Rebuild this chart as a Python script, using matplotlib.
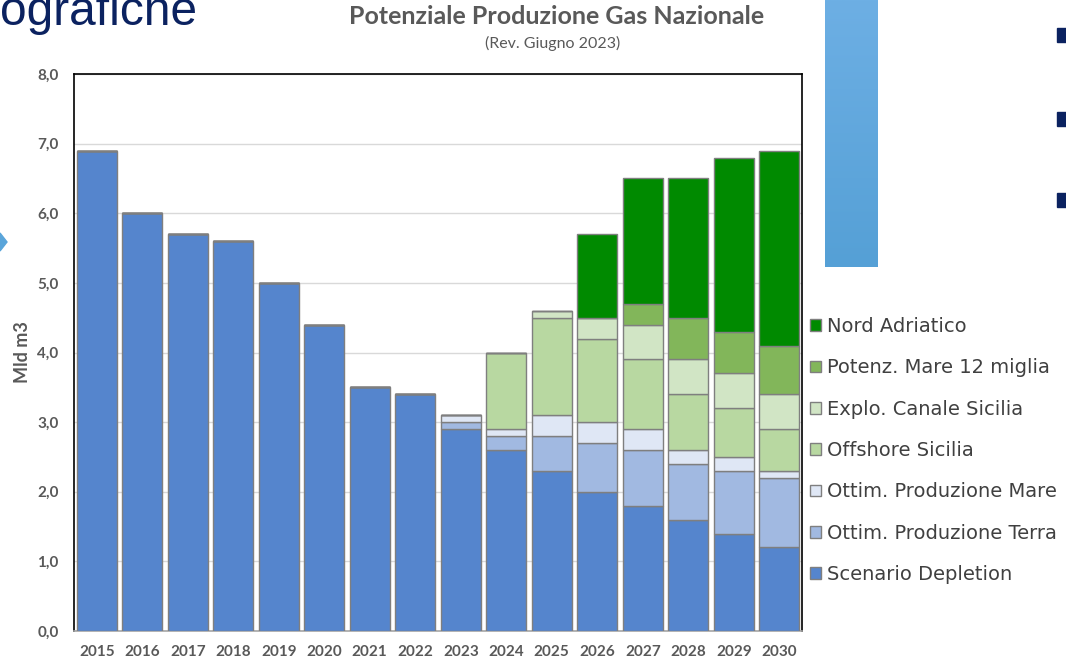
import numpy as np
import matplotlib
matplotlib.use('Agg')
from matplotlib import pyplot as plt
from matplotlib.patches import Rectangle, Polygon

years = ['2015', '2016', '2017', '2018', '2019', '2020', '2021', '2022',
         '2023', '2024', '2025', '2026', '2027', '2028', '2029', '2030']

# Mld m3 (stack order bottom -> top)
depletion = [6.9, 6.0, 5.7, 5.6, 5.0, 4.4, 3.5, 3.4, 2.9, 2.6, 2.3, 2.0, 1.8, 1.6, 1.4, 1.2]
ottim_terra = [0, 0, 0, 0, 0, 0, 0, 0, 0.1, 0.2, 0.5, 0.7, 0.8, 0.8, 0.9, 1.0]
ottim_mare = [0, 0, 0, 0, 0, 0, 0, 0, 0.1, 0.1, 0.3, 0.3, 0.3, 0.2, 0.2, 0.1]
offshore_sicilia = [0, 0, 0, 0, 0, 0, 0, 0, 0, 1.1, 1.4, 1.2, 1.0, 0.8, 0.7, 0.6]
explo_sicilia = [0, 0, 0, 0, 0, 0, 0, 0, 0, 0, 0.1, 0.3, 0.5, 0.5, 0.5, 0.5]
potenz_12 = [0, 0, 0, 0, 0, 0, 0, 0, 0, 0, 0, 0, 0.3, 0.6, 0.6, 0.7]
nord_adriatico = [0, 0, 0, 0, 0, 0, 0, 0, 0, 0, 0, 1.2, 1.8, 2.0, 2.5, 2.8]

series = [
    ('Scenario Depletion', depletion, '#5585CD'),
    ('Ottim. Produzione Terra', ottim_terra, '#A1B9E1'),
    ('Ottim. Produzione Mare', ottim_mare, '#DFE7F5'),
    ('Offshore Sicilia', offshore_sicilia, '#B8D8A1'),
    ('Explo. Canale Sicilia', explo_sicilia, '#D1E5C5'),
    ('Potenz. Mare 12 miglia', potenz_12, '#82B65A'),
    ('Nord Adriatico', nord_adriatico, '#008A00'),
]

W, H = 1066, 660
fig = plt.figure(figsize=(W / 100, H / 100), dpi=100)
grey = '#595959'

ax = fig.add_axes([74 / W, 1 - 631 / H, (802 - 74) / W, (631 - 74) / H])
x = np.arange(len(years))
bottom = np.zeros(len(years))
handles = []
for name, vals, col in series:
    vals = np.array(vals)
    b = ax.bar(x, vals, 0.88, bottom=bottom, color=col, edgecolor='#7F7F7F',
               linewidth=1, label=name, zorder=3)
    handles.append(b)
    bottom += vals

ax.set_xlim(-0.5, 15.5)
ax.set_ylim(0, 8)
ax.set_yticks(np.arange(0, 9))
ax.set_yticklabels([f'{v:.1f}'.replace('.', ',') for v in np.arange(0, 9)],
                   fontsize=11, fontweight='bold', color=grey, family='Lato')
ax.set_xticks(x)
ax.set_xticklabels(years, fontsize=11, fontweight='bold', color=grey, family='Lato')
ax.tick_params(axis='y', length=0, pad=11)
ax.tick_params(axis='x', length=0, pad=10)
ax.grid(axis='y', color='#D9D9D9', linewidth=1, zorder=0)
for s in ['left', 'top', 'right']:
    ax.spines[s].set_color('black')
    ax.spines[s].set_linewidth(1.2)
ax.spines['bottom'].set_color('#A6A6A6')
ax.spines['bottom'].set_linewidth(1.2)
fig.text(22 / W, 1 - 352 / H, 'Mld m3', rotation=90, ha='center', va='center',
         fontsize=13, fontweight='bold', color=grey, family='Lato')

fig.text(557 / W, 1 - 16 / H, 'Potenziale Produzione Gas Nazionale', ha='center', va='center',
         fontsize=18, fontweight='bold', color=grey, family='Lato')
fig.text(553 / W, 1 - 43 / H, '(Rev. Giugno 2023)', ha='center', va='center',
         fontsize=11.5, color=grey, family='Lato')

fig.legend(handles[::-1], [s[0] for s in series][::-1], loc='upper left',
           bbox_to_anchor=(810 / W, 1 - 317 / H), frameon=False,
           prop={'family': 'DejaVu Sans', 'size': 14}, labelcolor='#404040',
           handlelength=0.55, handleheight=0.55, handletextpad=0.3,
           labelspacing=1.15, borderpad=0, borderaxespad=0)

# slide decorations around the chart
fig.text(0, 1 - 25 / H, 'ografiche', ha='left', va='baseline', fontsize=34.5,
         color='#0B2260', family='Liberation Sans')
grad = fig.add_axes([825 / W, 1 - 267 / H, 53 / W, 267 / H])
grad.imshow(np.linspace(0, 1, 100).reshape(-1, 1), aspect='auto',
            cmap=matplotlib.colors.LinearSegmentedColormap.from_list('g', ['#6DAFE4', '#55A0D6']))
grad.axis('off')
for yt in [28, 112, 193]:
    fig.patches.append(Rectangle((1057 / W, 1 - (yt + 14) / H), 10 / W, 14 / H,
                                 transform=fig.transFigure, color='#0B2260'))
fig.patches.append(Polygon([(0, 1 - 233 / H), (7 / W, 1 - 242 / H), (0, 1 - 251 / H)],
                           closed=True, transform=fig.transFigure, color='#5AA5DA'))

fig.savefig('out.png', dpi=100)
